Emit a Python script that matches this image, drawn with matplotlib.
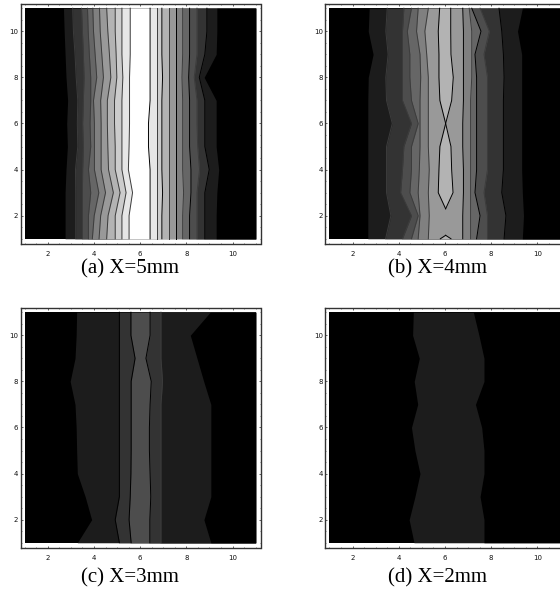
import matplotlib
matplotlib.use("Agg")
import matplotlib.pyplot as plt
from matplotlib.ticker import MultipleLocator, FixedLocator

plt.rcParams['font.family'] = ['Liberation Serif', 'DejaVu Serif']

# ============================================================
# DATA: contour crossing x read at each y row (y = 1..11)
# ============================================================

Y_ROWS = [1, 2, 3, 4, 5, 6, 7, 8, 9, 10, 11]
TICKS = [2, 4, 6, 8, 10]
CAPTIONS = ["(a) X=5mm", "(b) X=4mm", "(c) X=3mm", "(d) X=2mm"]

# shade levels going up from the background
GRAYS = ["#000000", "#1c1c1c", "#333333", "#4d4d4d", "#666666", "#808080",
         "#999999", "#b3b3b3", "#cccccc", "#e6e6e6", "#ffffff"]

# panel (a): rising edges, then falling edges
a_up = [
    [2.75, 2.75, 2.75, 2.79, 2.85, 2.82, 2.86, 2.79, 2.75, 2.71, 2.68],
    [3.21, 3.21, 3.21, 3.20, 3.30, 3.28, 3.30, 3.23, 3.18, 3.11, 3.08],
    [3.50, 3.50, 3.50, 3.51, 3.54, 3.51, 3.54, 3.57, 3.54, 3.50, 3.46],
    [3.76, 3.76, 3.86, 3.76, 3.86, 3.83, 3.86, 3.86, 3.80, 3.75, 3.72],
    [3.93, 4.01, 4.21, 4.02, 4.02, 4.02, 3.98, 4.12, 4.05, 3.98, 3.95],
    [4.22, 4.29, 4.50, 4.31, 4.31, 4.31, 4.29, 4.41, 4.34, 4.27, 4.24],
    [4.55, 4.61, 4.84, 4.63, 4.60, 4.58, 4.58, 4.73, 4.67, 4.60, 4.55],
    [4.92, 4.92, 5.13, 4.92, 4.92, 4.89, 4.89, 4.99, 4.96, 4.92, 4.92],
    [5.21, 5.21, 5.39, 5.21, 5.21, 5.21, 5.21, 5.25, 5.21, 5.21, 5.21],
    [5.52, 5.52, 5.67, 5.49, 5.52, 5.54, 5.54, 5.54, 5.57, 5.57, 5.57],
]
a_down = [
    [6.43, 6.43, 6.43, 6.43, 6.36, 6.36, 6.43, 6.43, 6.43, 6.43, 6.43],
    [6.72, 6.72, 6.72, 6.72, 6.72, 6.72, 6.72, 6.72, 6.72, 6.72, 6.72],
    [6.94, 6.94, 6.97, 6.94, 6.94, 6.94, 6.94, 6.97, 6.94, 6.94, 6.94],
    [7.23, 7.23, 7.23, 7.23, 7.23, 7.23, 7.23, 7.23, 7.23, 7.23, 7.23],
    [7.55, 7.55, 7.55, 7.55, 7.55, 7.55, 7.55, 7.55, 7.55, 7.55, 7.55],
    [7.84, 7.84, 7.88, 7.84, 7.84, 7.84, 7.84, 7.81, 7.84, 7.84, 7.84],
    [8.14, 8.14, 8.20, 8.20, 8.14, 8.14, 8.14, 8.10, 8.14, 8.14, 8.14],
    [8.46, 8.46, 8.46, 8.57, 8.49, 8.46, 8.46, 8.34, 8.46, 8.46, 8.46],
    [8.80, 8.80, 8.80, 8.99, 8.80, 8.80, 8.80, 8.56, 8.80, 8.89, 8.89],
    [9.29, 9.29, 9.32, 9.40, 9.29, 9.29, 9.29, 8.77, 9.29, 9.32, 9.32],
]

# panel (b)
b_up = [
    [2.66, 2.66, 2.66, 2.66, 2.66, 2.66, 2.66, 2.68, 2.89, 2.68, 2.72],
    [3.43, 3.66, 3.47, 3.47, 3.47, 3.72, 3.47, 3.44, 3.54, 3.44, 3.50],
    [4.16, 4.55, 4.08, 4.16, 4.22, 4.55, 4.16, 4.16, 4.16, 4.16, 4.22],
    [4.55, 4.84, 4.48, 4.55, 4.55, 4.84, 4.55, 4.48, 4.48, 4.37, 4.55],
    [4.84, 4.92, 4.84, 4.89, 4.92, 4.92, 4.92, 4.95, 4.92, 4.77, 4.84],
    [5.28, 5.32, 5.28, 5.32, 5.28, 5.28, 5.28, 5.28, 5.21, 5.13, 5.28],
]
b_down = [
    [6.77, 6.77, 6.80, 6.80, 6.77, 6.77, 6.80, 6.80, 6.80, 6.80, 6.77],
    [7.11, 7.11, 7.11, 7.11, 7.11, 7.11, 7.11, 7.16, 7.16, 7.16, 7.05],
    [7.37, 7.52, 7.30, 7.37, 7.37, 7.37, 7.37, 7.37, 7.30, 7.56, 7.16],
    [7.84, 7.84, 7.69, 7.84, 7.84, 7.84, 7.84, 7.84, 7.69, 7.92, 7.52],
    [8.56, 8.64, 8.46, 8.53, 8.53, 8.53, 8.53, 8.56, 8.53, 8.46, 8.34],
    [9.35, 9.40, 9.35, 9.32, 9.32, 9.32, 9.32, 9.32, 9.32, 9.14, 9.35],
]
# the two lightest islands in (b) do not start on a whole row
b_core_y = [2.3, 3, 4, 5, 6, 7, 8, 9, 10, 11]
b_core_left = [6.03, 5.71, 5.74, 5.78, 6.03, 5.78, 5.74, 5.74, 5.71, 5.77]
b_core_right = [6.03, 6.35, 6.29, 6.26, 6.03, 6.29, 6.36, 6.26, 6.25, 6.25]
b_cap_y = [1, 1.15]
b_cap_left = [5.80, 6.03]
b_cap_right = [6.26, 6.03]

# panel (c)
c_up = [
    [3.28, 3.90, 3.62, 3.28, 3.25, 3.23, 3.18, 2.97, 3.18, 3.23, 3.25],
    [5.10, 4.92, 5.10, 5.10, 5.10, 5.10, 5.10, 5.10, 5.10, 5.10, 5.10],
    [5.61, 5.52, 5.57, 5.60, 5.61, 5.61, 5.61, 5.61, 5.78, 5.60, 5.60],
]
c_down = [
    [6.42, 6.42, 6.46, 6.43, 6.40, 6.40, 6.43, 6.48, 6.25, 6.43, 6.43],
    [6.90, 6.90, 6.90, 6.90, 6.90, 6.90, 6.90, 6.97, 6.90, 6.90, 6.90],
    [9.06, 8.76, 9.06, 9.06, 9.06, 9.06, 9.06, 8.75, 8.46, 8.17, 9.03],
]

# panel (d)
d_up = [
    [4.66, 4.45, 4.70, 4.92, 4.70, 4.55, 4.82, 4.67, 4.89, 4.60, 4.63],
]
d_down = [
    [7.69, 7.69, 7.52, 7.69, 7.69, 7.59, 7.32, 7.69, 7.69, 7.47, 7.23],
]

# ============================================================
# DRAWING
# ============================================================

W, H = 560, 593
AX_W, AX_H = 240, 240
LEFTS = [20.5, 325.3, 20.5, 325.3]
TOPS = [4.3, 4.3, 308.3, 308.3]
CAPTION_X = [130, 438, 130, 438]
CAPTION_Y = [269, 269, 578, 578]
LINE_DARK = "#000000"
LINE_SOFT = "#3c3c3c"
LW = 0.7


def draw_panel(ax, up, down):
    ax.fill_betweenx(Y_ROWS, 1, 11, color=GRAYS[0], lw=0, zorder=1)

    # climb through the levels, each fill painted over the last
    for i, edge in enumerate(up):
        ax.fill_betweenx(Y_ROWS, edge, 11, color=GRAYS[i + 1], lw=0, zorder=2 + i)
    n = len(up)
    for j, edge in enumerate(down):
        ax.fill_betweenx(Y_ROWS, edge, 11, color=GRAYS[n - 1 - j], lw=0, zorder=2 + n + j)

    # black to first level has no visible line in the original
    soft_left = n > 3
    for edge in up[1:]:
        ax.plot(edge, Y_ROWS, color=LINE_SOFT if soft_left else LINE_DARK, lw=LW, zorder=40)
    for j, edge in enumerate(down[:-1]):
        col = LINE_DARK if j % 2 == 0 else LINE_SOFT
        ax.plot(edge, Y_ROWS, color=col, lw=LW, zorder=40)


def style_axes(ax):
    ax.set_xlim(0.82, 11.21)
    ax.set_ylim(0.76, 11.17)
    ax.xaxis.set_major_locator(FixedLocator(TICKS))
    ax.yaxis.set_major_locator(FixedLocator(TICKS))
    ax.xaxis.set_minor_locator(MultipleLocator(0.5))
    ax.yaxis.set_minor_locator(MultipleLocator(0.5))
    ax.tick_params(which="major", direction="in", length=1.6, width=0.6,
                   labelsize=5, color="#444444", labelcolor="#111111",
                   top=True, right=True)
    ax.tick_params(which="minor", direction="in", length=1.0, width=0.5,
                   color="#555555", top=True, right=True)
    ax.tick_params(axis="x", which="major", pad=4.5)
    ax.tick_params(axis="y", which="major", pad=1.8)
    for lab in ax.get_xticklabels() + ax.get_yticklabels():
        lab.set_family("DejaVu Sans")
    for s in ax.spines.values():
        s.set_linewidth(1.0)
        s.set_color("#333333")
        s.set_zorder(60)


fig = plt.figure(figsize=(5.6, 5.93), dpi=100)
panels = [(a_up, a_down), (b_up, b_down), (c_up, c_down), (d_up, d_down)]

for k, (up, down) in enumerate(panels):
    ax = fig.add_axes([LEFTS[k] / W, 1 - (TOPS[k] + AX_H) / H, AX_W / W, AX_H / H])
    draw_panel(ax, up, down)
    if k == 1:
        ax.fill_betweenx(b_core_y, b_core_left, b_core_right, color=GRAYS[7], lw=0, zorder=30)
        ax.plot(b_core_left, b_core_y, color=LINE_DARK, lw=LW, zorder=40)
        ax.plot(b_core_right, b_core_y, color=LINE_DARK, lw=LW, zorder=40)
        ax.fill_betweenx(b_cap_y, b_cap_left, b_cap_right, color=GRAYS[7], lw=0, zorder=30)
        ax.plot(b_cap_left, b_cap_y, color=LINE_DARK, lw=LW, zorder=40)
        ax.plot(b_cap_right, b_cap_y, color=LINE_DARK, lw=LW, zorder=40)
    style_axes(ax)
    fig.text(CAPTION_X[k] / W, 1 - CAPTION_Y[k] / H, CAPTIONS[k],
             fontsize=15, ha="center", va="center", color="black")

fig.savefig("out.png", dpi=100)
